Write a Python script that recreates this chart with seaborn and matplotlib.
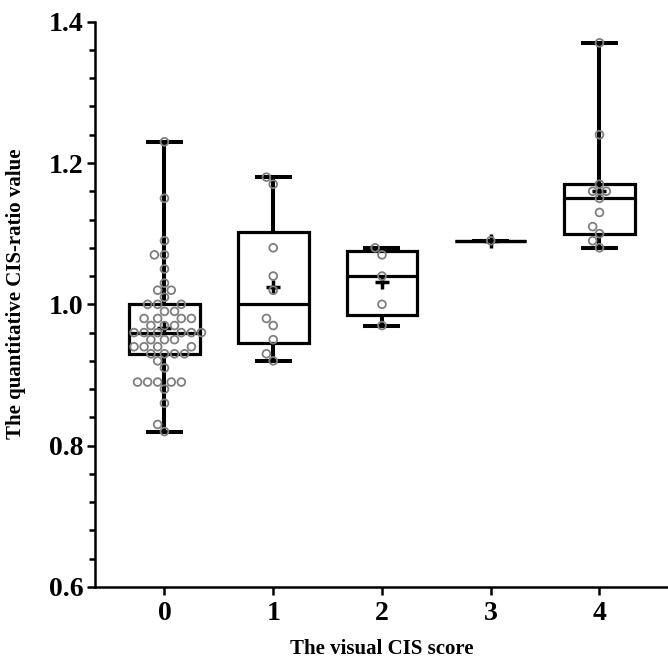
import numpy as np
import pandas as pd
import matplotlib
matplotlib.use("Agg")
import matplotlib.pyplot as plt
from matplotlib.ticker import AutoMinorLocator
import seaborn as sns

# values
score_0 = [0.82, 0.83, 0.86, 0.88, 0.89, 0.89, 0.89, 0.89, 0.89, 0.91,
           0.92, 0.93, 0.93, 0.93, 0.93, 0.94, 0.94, 0.94, 0.94, 0.95,
           0.95, 0.95, 0.96, 0.96, 0.96, 0.96, 0.96, 0.96, 0.97, 0.97,
           0.97, 0.98, 0.98, 0.98, 0.98, 0.99, 0.99, 1.00, 1.00, 1.00,
           1.01, 1.02, 1.02, 1.03, 1.05, 1.07, 1.07, 1.09, 1.15, 1.23]
score_1 = [0.92, 0.93, 0.95, 0.97, 0.98, 1.02, 1.04, 1.08, 1.17, 1.18]
score_2 = [0.97, 1.00, 1.04, 1.07, 1.08]
score_3 = [1.09]
score_4 = [1.08, 1.09, 1.10, 1.11, 1.13, 1.15, 1.16, 1.16, 1.17, 1.24, 1.37]

groups = [score_0, score_1, score_2, score_3, score_4]
categories = ["0", "1", "2", "3", "4"]
y_ticks = [0.6, 0.8, 1.0, 1.2, 1.4]

df = pd.DataFrame({
    "score": np.repeat(categories, [len(g) for g in groups]),
    "ratio": np.concatenate(groups),
})

sns.set_style("ticks")
plt.rcParams["font.family"] = ["Liberation Serif", "DejaVu Serif"]
plt.rcParams["font.weight"] = "bold"
plt.rcParams["text.color"] = "black"
plt.rcParams["axes.labelcolor"] = "black"
plt.rcParams["xtick.color"] = "black"
plt.rcParams["ytick.color"] = "black"
plt.rcParams["axes.edgecolor"] = "black"
plt.rcParams["lines.solid_capstyle"] = "butt"

fig = plt.figure(figsize=(6.68, 6.69), dpi=100)
ax = fig.add_axes([0.142, 0.1226, 0.858, 0.845])

# box stats like GraphPad: quartiles (n+1 method), whiskers min to max
stats = []
for g in groups:
    a = np.array(g)
    q1, med, q3 = np.percentile(a, [25, 50, 75], method="weibull")
    stats.append({"med": med, "q1": q1, "q3": q3, "whislo": a.min(),
                  "whishi": a.max(), "mean": a.mean(), "fliers": []})

lw = 2.3
ax.bxp(stats, positions=range(len(groups)), widths=0.65, capwidths=0.34,
       showmeans=True, patch_artist=True, manage_ticks=False,
       boxprops=dict(facecolor="white", edgecolor="black", linewidth=lw),
       medianprops=dict(color="black", linewidth=lw),
       whiskerprops=dict(color="black", linewidth=lw + 0.6),
       capprops=dict(color="black", linewidth=lw + 0.6),
       meanprops=dict(marker="+", markeredgecolor="black", markersize=10,
                      markeredgewidth=2.5))

sns.swarmplot(data=df, x="score", y="ratio", order=categories, ax=ax,
              color="#7f7f7f", size=5.6, linewidth=1.3, edgecolor="#7f7f7f",
              zorder=5)
for coll in ax.collections:
    coll.set_facecolor("none")
    coll.set_edgecolor("#7f7f7f")

ax.set_xlim(-0.64, 4.63)
ax.set_ylim(0.6, 1.4)
ax.set_yticks(y_ticks)
ax.set_yticklabels([f"{t:.1f}" for t in y_ticks])
ax.yaxis.set_minor_locator(AutoMinorLocator(5))
ax.set_xticks(range(len(categories)))
ax.set_xticklabels(categories)

sns.despine(ax=ax)
for s in ["left", "bottom"]:
    ax.spines[s].set_linewidth(1.8)
    ax.spines[s].set_color("black")
ax.tick_params(axis="both", which="major", length=6, width=1.8,
               labelsize=20, color="black", labelcolor="black")
ax.tick_params(axis="y", which="minor", length=4, width=1.8, color="black")
ax.tick_params(axis="y", which="major", pad=2)
ax.tick_params(axis="x", which="major", pad=4)

ax.set_xlabel("The visual CIS score", fontsize=15, fontweight="bold")
ax.set_ylabel("The quantitative CIS-ratio value", fontsize=15,
              fontweight="bold")
ax.xaxis.set_label_coords(0.5, -0.092)
ax.yaxis.set_label_coords(-0.12, 0.518)

fig.savefig("out.png", dpi=100)
